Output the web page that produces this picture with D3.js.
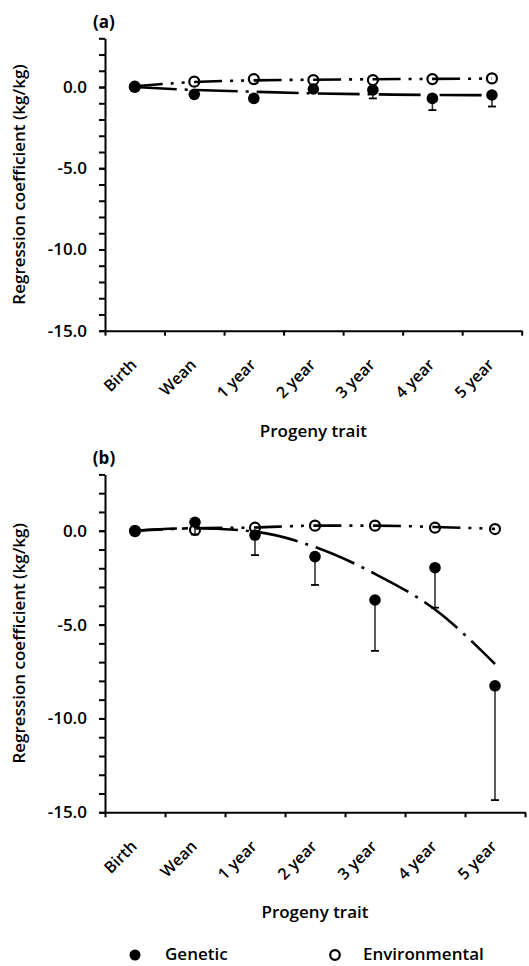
<!DOCTYPE html>
<html><head><meta charset="utf-8">
<script src="https://cdn.jsdelivr.net/npm/d3@7"></script>
<style>
html,body{margin:0;padding:0;background:#fff;}
text{font-family:"Open Sans",sans-serif;font-weight:600;fill:#000;}
</style></head>
<body>
<svg id="chart" width="529" height="966"></svg>
<script>
// ---------- DATA ----------
const categories = ["Birth","Wean","1 year","2 year","3 year","4 year","5 year"];
const yMajorTicks = [-15,-10,-5,0];
const yMinorTicks = d3.range(-15,4,1);

// Panel (a)
const genA      = [0.0, -0.45, -0.70, -0.12, -0.18, -0.70, -0.49];
const genALow   = [0.0, -0.55, -0.90, -0.20, -0.70, -1.42, -1.20];
const envA      = [0.02, 0.33, 0.49, 0.43, 0.43, 0.49, 0.53];
const genFitA   = [0.0, -0.18, -0.29, -0.39, -0.45, -0.49, -0.50];
const envFitA   = [0.05, 0.31, 0.41, 0.45, 0.48, 0.50, 0.52];

// Panel (b)
const genB      = [0.0, 0.45, -0.23, -1.38, -3.69, -1.97, -8.26];
const genBLow   = [0.0, -0.20, -1.30, -2.89, -6.40, -4.10, -14.35];
const envB      = [-0.02, 0.04, 0.16, 0.27, 0.27, 0.16, 0.09];
const genFitB   = [0.0, 0.13, -0.05, -0.87, -2.30, -4.20, -7.10];
const envFitB   = [0.0, 0.13, 0.17, 0.27, 0.27, 0.20, 0.10];

const legendLabels = ["Genetic","Environmental"];

// ---------- DRAW ----------
const svg = d3.select("#chart");
svg.append("rect").attr("width",529).attr("height",966).attr("fill","#fff");

function drawPanel(cfg){
  const g = svg.append("g");
  const x0 = d3.scaleLinear().domain([0,categories.length]).range([cfg.left,cfg.right]);
  const xb = d3.scaleBand().domain(categories).range([cfg.left,cfg.right]);
  const xc = c => xb(c) + xb.bandwidth()/2;
  const y = d3.scaleLinear().domain([-15,3]).range([cfg.bottom,cfg.top]);

  // y axis minor ticks + line
  const yMinor = g.append("g").attr("transform",`translate(${cfg.left},0)`)
    .call(d3.axisLeft(y).tickValues(yMinorTicks).tickSize(6).tickSizeOuter(0).tickFormat(""));
  yMinor.selectAll("path,line").attr("stroke","#000").attr("stroke-width",2);
  // y labels
  const yMaj = g.append("g").attr("transform",`translate(${cfg.left},0)`)
    .call(d3.axisLeft(y).tickValues(yMajorTicks).tickSize(6).tickPadding(12).tickSizeOuter(0).tickFormat(d=>d.toFixed(1)));
  yMaj.select("path").remove();
  yMaj.selectAll("line").attr("stroke","#000").attr("stroke-width",2);
  yMaj.selectAll("text").style("font-size","17px").style("font-family","Open Sans").style("font-weight","600");

  // x axis with ticks at band boundaries
  const xa = g.append("g").attr("transform",`translate(0,${cfg.bottom})`)
    .call(d3.axisBottom(x0).tickValues(d3.range(categories.length+1)).tickSize(5).tickSizeOuter(0).tickFormat(""));
  xa.selectAll("path,line").attr("stroke","#000").attr("stroke-width",2);

  // category labels
  g.selectAll("text.cat").data(categories).join("text").attr("class","cat")
    .attr("transform",d=>`translate(${xc(d)+3},${cfg.bottom+35}) rotate(-45)`)
    .attr("text-anchor","end").style("font-size","16px").text(d=>d);

  // axis titles
  g.append("text").attr("x",(cfg.left+cfg.right)/2).attr("y",cfg.xTitleY)
    .attr("text-anchor","middle").style("font-size","17px").text("Progeny trait");
  g.append("text").attr("transform",`translate(25,${(cfg.top+cfg.bottom)/2}) rotate(-90)`)
    .attr("text-anchor","middle").style("font-size","17px").text("Regression coefficient (kg/kg)");
  g.append("text").attr("x",104).attr("y",cfg.top-10).attr("text-anchor","middle")
    .style("font-size","17px").style("font-weight","700").text(cfg.label);

  // trend lines
  const line = d3.line().x((d,i)=>xc(categories[i])).y(d=>y(d)).curve(d3.curveMonotoneX);
  g.append("path").datum(cfg.envFit).attr("d",line).attr("fill","none")
    .attr("stroke","#000").attr("stroke-width",2.6).attr("stroke-dasharray","28,8,3,8,3,9.5");
  g.append("path").datum(cfg.genFit).attr("d",line).attr("fill","none")
    .attr("stroke","#000").attr("stroke-width",2.6).attr("stroke-dasharray","42,8,3,8");

  // error bars (genetic, downward)
  const eb = g.append("g");
  categories.forEach((c,i)=>{
    if (cfg.genLow[i] < cfg.gen[i]-0.05){
      eb.append("line").attr("x1",xc(c)).attr("x2",xc(c)).attr("y1",y(cfg.gen[i])).attr("y2",y(cfg.genLow[i]))
        .attr("stroke","#333").attr("stroke-width",1.6);
      eb.append("line").attr("x1",xc(c)-4).attr("x2",xc(c)+4).attr("y1",y(cfg.genLow[i])).attr("y2",y(cfg.genLow[i]))
        .attr("stroke","#000").attr("stroke-width",1.8);
    }
  });

  // points
  g.selectAll("circle.gen").data(cfg.gen).join("circle").attr("class","gen")
    .attr("cx",(d,i)=>xc(categories[i])).attr("cy",d=>y(d)).attr("r",5.8).attr("fill","#000");
  g.selectAll("circle.env").data(cfg.env).join("circle").attr("class","env")
    .attr("cx",(d,i)=>xc(categories[i])).attr("cy",d=>y(d)).attr("r",5).attr("fill","none")
    .attr("stroke","#000").attr("stroke-width",2.2);
}

drawPanel({label:"(a)", top:38.3, bottom:330.7, left:105, right:521.7, xTitleY:437,
  gen:genA, genLow:genALow, env:envA, genFit:genFitA, envFit:envFitA});
drawPanel({label:"(b)", top:474.4, bottom:812.3, left:105, right:525, xTitleY:918,
  gen:genB, genLow:genBLow, env:envB, genFit:genFitB, envFit:envFitB});

// legend
const lg = svg.append("g");
lg.append("circle").attr("cx",135).attr("cy",955).attr("r",5.5).attr("fill","#000");
lg.append("text").attr("x",165).attr("y",960).style("font-size","17px").text(legendLabels[0]);
lg.append("circle").attr("cx",335).attr("cy",955).attr("r",4.8).attr("fill","none").attr("stroke","#000").attr("stroke-width",2.2);
lg.append("text").attr("x",363).attr("y",960).style("font-size","17px").text(legendLabels[1]);
</script>
</body></html>
